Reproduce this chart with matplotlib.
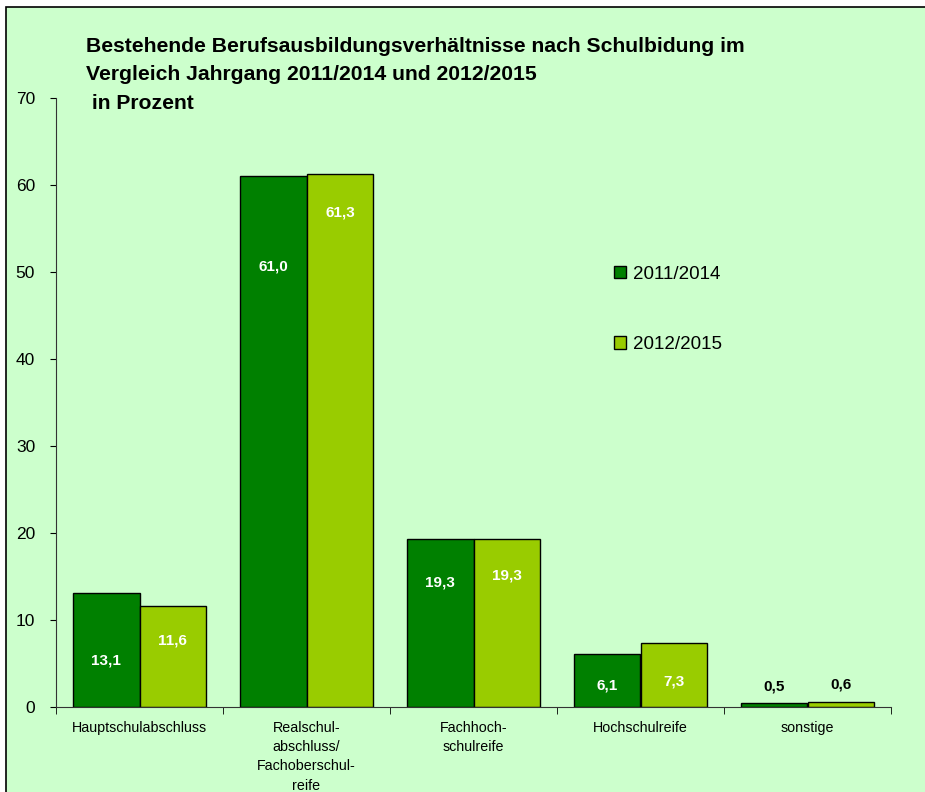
import matplotlib.pyplot as plt
import numpy as np
from matplotlib.patches import Rectangle

plt.rcParams["font.family"] = ["Liberation Sans", "DejaVu Sans"]

categories = [
    "Hauptschulabschluss",
    "Realschul-\nabschluss/\nFachoberschul-\nreife",
    "Fachhoch-\nschulreife",
    "Hochschulreife",
    "sonstige",
]
values_2011 = [13.1, 61.0, 19.3, 6.1, 0.5]
values_2012 = [11.6, 61.3, 19.3, 7.3, 0.6]
series_labels = ["2011/2014", "2012/2015"]
value_texts_2011 = ["13,1", "61,0", "19,3", "6,1", "0,5"]
value_texts_2012 = ["11,6", "61,3", "19,3", "7,3", "0,6"]
yticks = [0, 10, 20, 30, 40, 50, 60, 70]

BG = "#CCFFCC"
DARK = "#008000"
LIGHT = "#99CC00"

fig = plt.figure(figsize=(9.25, 7.92), dpi=100)
fig.patch.set_facecolor("white")
fig.patches.append(Rectangle((6 / 925, -0.05), 1.2, 1 - 7 / 792 + 0.05,
                             transform=fig.transFigure, facecolor=BG,
                             edgecolor="black", linewidth=1.2, zorder=-10))

ax = fig.add_axes([56 / 925, 85 / 792, 835 / 925, 609 / 792])
ax.set_facecolor("none")

x = np.arange(len(categories))
w = 0.4
ax.bar(x - w / 2, values_2011, w, color=DARK, edgecolor="black", linewidth=1,
       label=series_labels[0])
ax.bar(x + w / 2, values_2012, w, color=LIGHT, edgecolor="black", linewidth=1,
       label=series_labels[1])

# label heights as placed in the original
label_y_2011 = [5.4, 50.6, 14.3, 2.5, 2.3]
label_y_2012 = [7.6, 56.8, 15.1, 2.9, 2.6]
for i in range(len(categories)):
    c1 = "white" if values_2011[i] > 2 else "black"
    c2 = "white" if values_2012[i] > 2 else "black"
    ax.text(x[i] - w / 2, label_y_2011[i], value_texts_2011[i], ha="center", va="center",
            color=c1, fontsize=11, fontweight="bold")
    ax.text(x[i] + w / 2, label_y_2012[i], value_texts_2012[i], ha="center", va="center",
            color=c2, fontsize=11, fontweight="bold")

ax.set_xlim(-0.5, len(categories) - 0.5)
ax.set_ylim(0, 70)
ax.set_yticks(yticks)
ax.tick_params(axis="y", direction="out", length=4, labelsize=12.5, pad=11)
ax.set_xticks(x)
ax.set_xticklabels(categories, fontsize=10.3, linespacing=1.48, va="top")
ax.tick_params(axis="x", which="major", length=0, pad=10)
ax.set_xticks(np.arange(len(categories) + 1) - 0.5, minor=True)
ax.tick_params(axis="x", which="minor", direction="out", length=5)
for s in ["top", "right"]:
    ax.spines[s].set_visible(False)
ax.spines["left"].set_color("#333333")
ax.spines["bottom"].set_color("#333333")

ax.legend(loc="upper left", bbox_to_anchor=(0.657, 0.740), frameon=False, fontsize=13.5,
          handlelength=0.65, handleheight=0.65, handletextpad=0.35, labelspacing=2.85,
          borderpad=0)

fig.text(86 / 925, 1 - 37 / 792,
         "Bestehende Berufsausbildungsverhältnisse nach Schulbidung im\n"
         "Vergleich Jahrgang 2011/2014 und 2012/2015\n in Prozent",
         ha="left", va="top", fontsize=15.2, fontweight="bold", linespacing=1.63)

fig.savefig("out.png", dpi=100, facecolor=fig.get_facecolor())
